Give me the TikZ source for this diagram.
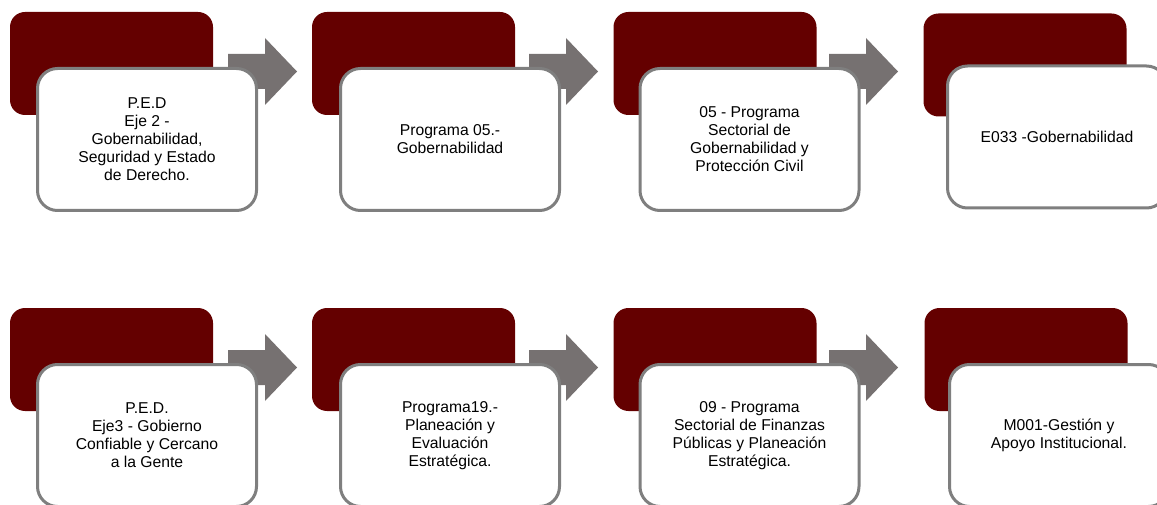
\documentclass[tikz,border=0pt]{standalone}
\usepackage{fontspec}
\setmainfont{Liberation Sans}
\definecolor{darkred}{RGB}{100,0,0}
\definecolor{arrowgray}{RGB}{118,113,113}
\definecolor{framegray}{RGB}{127,127,127}
\tikzset{
  back/.style={fill=darkred, rounded corners=15pt, minimum width=203pt, minimum height=103pt, inner sep=0pt},
  card/.style={draw=framegray, line width=3pt, fill=white, rounded corners=20pt, minimum width=219pt, minimum height=142pt, inner sep=0pt, align=center, font=\fontsize{15.7}{18}\selectfont},
  blockarrow/.style={fill=arrowgray}
}
\begin{document}
\begin{tikzpicture}[x=1pt, y=-1pt]
\useasboundingbox (0,0) rectangle (1157,505);
\clip (0,0) rectangle (1157,505);
% arrows
\fill[blockarrow, shift={(228,0)}] (0,54) -- (37,54) -- (37,38) -- (69,71.5) -- (37,105) -- (37,89) -- (0,89) -- cycle;
\fill[blockarrow, shift={(529,0)}] (0,54) -- (37,54) -- (37,38) -- (69,71.5) -- (37,105) -- (37,89) -- (0,89) -- cycle;
\fill[blockarrow, shift={(829,0)}] (0,54) -- (37,54) -- (37,38) -- (69,71.5) -- (37,105) -- (37,89) -- (0,89) -- cycle;
\fill[blockarrow, shift={(228,296)}] (0,54) -- (37,54) -- (37,38) -- (69,71.5) -- (37,105) -- (37,89) -- (0,89) -- cycle;
\fill[blockarrow, shift={(529,296)}] (0,54) -- (37,54) -- (37,38) -- (69,71.5) -- (37,105) -- (37,89) -- (0,89) -- cycle;
\fill[blockarrow, shift={(829,296)}] (0,54) -- (37,54) -- (37,38) -- (69,71.5) -- (37,105) -- (37,89) -- (0,89) -- cycle;
% top row
\node[back] (red1) at (111.5,63.5){};
\node[back] (red2) at (413.5,63.5){};
\node[back] (red3) at (715,63.5){};
\node[back] (red4) at (1025,65){};
\node[card] (box1) at (147,139.5){P.E.D\\Eje 2 -\\Gobernabilidad,\\Seguridad y Estado\\de Derecho.};
\node[card] (box2) at (450,139.5){Programa 05.-\\Gobernabilidad};
\node[card] (box3) at (749.5,139.5){05 - Programa\\Sectorial de\\Gobernabilidad y\\Protección Civil};
\node[card] (box4) at (1057,137){E033 -Gobernabilidad};
% bottom row
\node[back] (red5) at (111.5,359.5){};
\node[back] (red6) at (413.5,359.5){};
\node[back] (red7) at (715,359.5){};
\node[back] (red8) at (1026,359.5){};
\node[card] (box5) at (147,435.5){P.E.D.\\Eje3 - Gobierno\\Confiable y Cercano\\a la Gente};
\node[card] (box6) at (450,435.5){Programa19.-\\Planeación y\\Evaluación\\Estratégica.};
\node[card] (box7) at (749.5,435.5){09 - Programa\\Sectorial de Finanzas\\Públicas y Planeación\\Estratégica.};
\node[card] (box8) at (1059,435.5){M001-Gestión y\\Apoyo Institucional.};
\end{tikzpicture}
\end{document}
